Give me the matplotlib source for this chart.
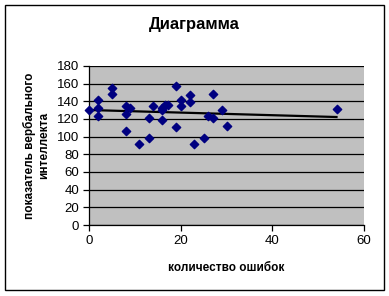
import numpy as np
import matplotlib
matplotlib.use("Agg")
import matplotlib.pyplot as plt
from matplotlib.patches import Rectangle

errors = [0, 2, 2, 2, 5, 5, 8, 8, 8, 9, 11, 13, 13, 14, 16, 16, 16, 16.6, 17.2,
          19, 19, 20, 20, 22, 22, 23, 25, 26, 27, 27, 29, 30, 54]
verbal = [130, 142, 132, 123, 155, 148, 135, 126, 106, 133, 92, 121, 99, 135, 133, 119, 130, 136, 136,
          157, 111, 141, 135, 147, 139, 92, 98, 123, 148, 121, 130, 112, 131]

title = "Диаграмма"
xlabel = "количество ошибок"
ylabel = "показатель вербального\nинтеллекта"
xticks = [0, 20, 40, 60]
yticks = [0, 20, 40, 60, 80, 100, 120, 140, 160, 180]

plt.rcParams['font.family'] = ['Liberation Sans', 'DejaVu Sans']

fig = plt.figure(figsize=(3.89, 2.96), dpi=100)
fig.patches.append(Rectangle((5/389, 1-290/296), 379/389, 285/296, transform=fig.transFigure,
                             fill=False, edgecolor='black', linewidth=1.0))

ax = fig.add_axes([89/389, 1-225/296, 275/389, 159/296])
ax.set_facecolor('#C0C0C0')
ax.set_xlim(0, 60)
ax.set_ylim(0, 180)
ax.set_xticks(xticks)
ax.set_yticks(yticks)
ax.yaxis.grid(True, color='black', linewidth=0.9)
ax.set_axisbelow(True)
for s in ['top', 'right']:
    ax.spines[s].set_visible(False)
ax.spines['left'].set_linewidth(0.9)
ax.spines['bottom'].set_linewidth(0.9)
ax.tick_params(direction='out', length=4, width=0.9, labelsize=9.5, pad=3)

x = np.array(errors, dtype=float)
y = np.array(verbal, dtype=float)
ax.scatter(x, y, marker='D', s=18, color='#000080', zorder=3, clip_on=False)
k, b = np.polyfit(x, y, 1)
xs = np.array([0, x.max()])
ax.plot(xs, k*xs + b, color='black', linewidth=1.6, zorder=2)

fig.text(194/389, 1-25/296, title, ha='center', va='center', fontsize=12, fontweight='bold')
ax.set_xlabel(xlabel, fontsize=8.5, fontweight='bold', labelpad=11)
ax.set_ylabel(ylabel, fontsize=8.5, fontweight='bold', labelpad=5, linespacing=1.25)

fig.savefig("out.png", dpi=100)
